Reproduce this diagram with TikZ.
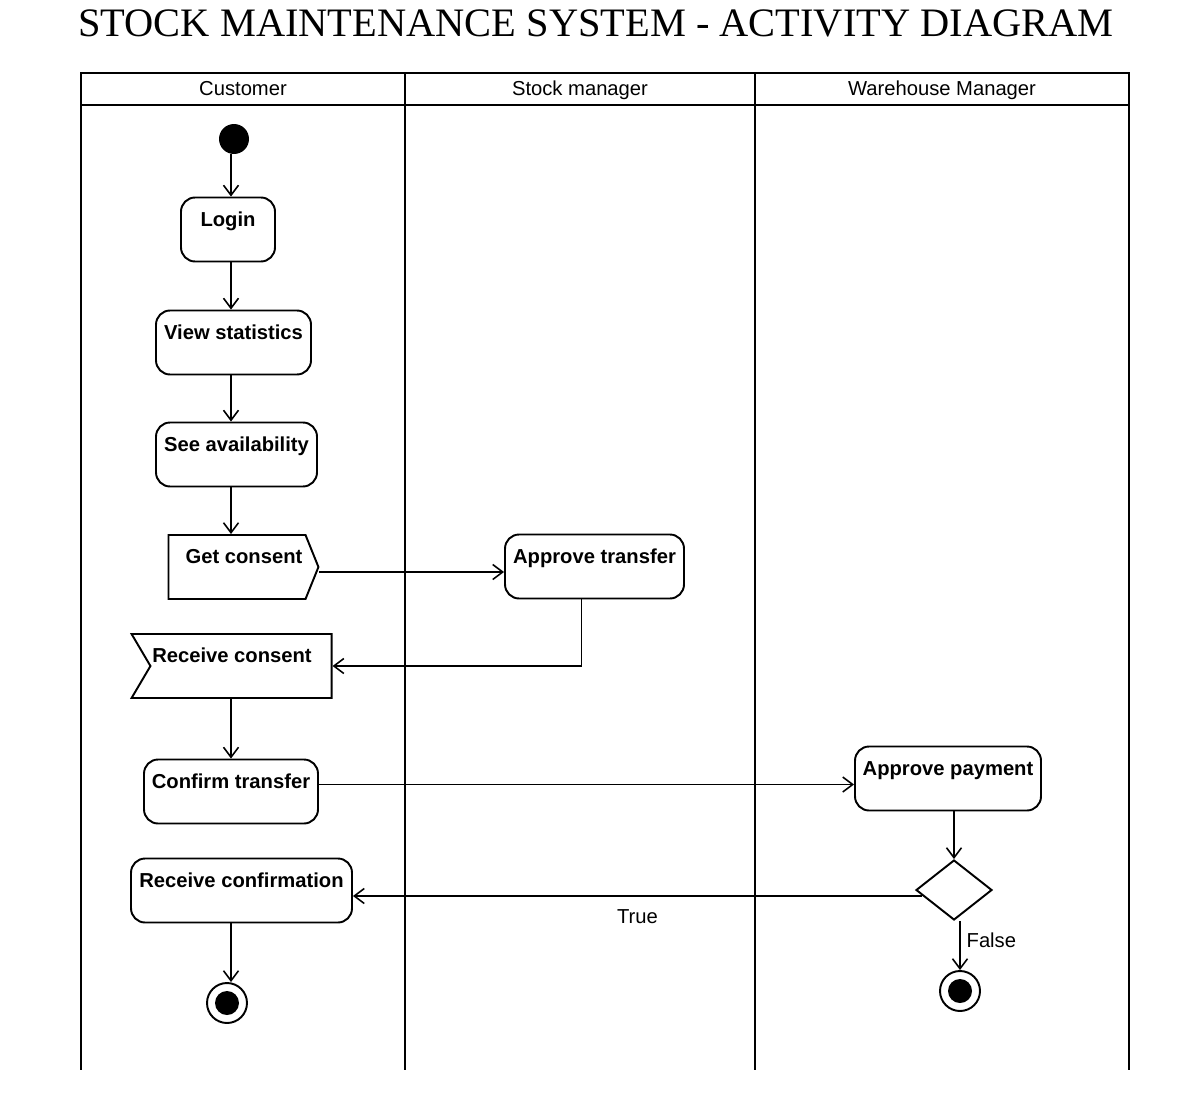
\documentclass[tikz,border=0pt]{standalone}
\usepackage{fontspec}
\setmainfont{Liberation Sans}
\newfontfamily\titlefont{Liberation Serif}
\usetikzlibrary{shapes.geometric,shapes.symbols,arrows.meta,calc}

\begin{document}
\begin{tikzpicture}
	[x=0.02cm,y=-0.02cm,
	every node/.style={font=\fontsize{11.5}{13}\selectfont},
	act/.style={draw,line width=1.1pt,rounded corners=8pt,font=\fontsize{11.5}{13}\selectfont\bfseries,
		text height=0.42cm,text depth=0.56cm,inner ysep=0.15cm,inner xsep=0pt,minimum height=1.28cm},
	sig/.style={act,signal,sharp corners},
	lanehead/.style={anchor=base},
	flow/.style={-{Straight Barb[length=0.2cm,width=0.3cm]},line width=0.9pt},
	lane/.style={line width=1.6pt}]
	\useasboundingbox (0,0) rectangle (1203,1092);

	% title and swimlanes
	\node[font=\titlefont\fontsize{23}{26}\selectfont] (title) at (596,23)
		{STOCK MAINTENANCE SYSTEM - ACTIVITY DIAGRAM};
	\draw[lane] (81,73) rectangle (1129,105);
	\foreach \x in {81,405,755,1129}
		\draw[lane] (\x,73) -- (\x,1070);
	\node[lanehead] (cust) at (243,95) {Customer};
	\node[lanehead] (stock) at (580,95) {Stock manager};
	\node[lanehead] (ware) at (942,95) {Warehouse Manager};
	\coordinate (custaxis) at (231,0);

	% activities
	\node[circle,fill=black,minimum size=0.6cm,inner sep=0pt] (start) at (234,139) {};
	\node[act,minimum width=1.88cm] (login) at (228,229.5) {Login};
	\node[act,minimum width=3.1cm] (stats) at (233.5,342.5) {View statistics};
	\node[act,minimum width=3.22cm] (avail) at (236.5,454.5) {See availability};
	\node[sig,signal to=east,signal pointer angle=136,minimum width=3cm] (getcons) at (237,567)
		{Get consent\hspace*{-0.28cm}};
	\node[act,minimum width=3.58cm] (approvet) at (594.5,566.5) {Approve transfer};
	\node[sig,signal from=west,signal to=nowhere,signal pointer angle=119,minimum width=4cm] (recvcons) at (241,666)
		{\hspace*{-0.36cm}Receive consent};
	\node[act,minimum width=3.48cm] (confirm) at (231,791.5) {Confirm transfer};
	\node[act,minimum width=3.72cm] (approvep) at (948,778.5) {Approve payment};
	\node[draw,line width=1.1pt,diamond,minimum width=1.52cm,minimum height=1.2cm,inner sep=0pt] (decide) at (954,890) {};
	\node[act,minimum width=4.42cm] (recvconf) at (241.5,890.5) {Receive confirmation};
	\node[circle,draw,line width=1.1pt,minimum size=0.8cm,inner sep=0pt] (end1) at (227,1003) {};
	\node[circle,draw,line width=1.1pt,minimum size=0.8cm,inner sep=0pt] (end2) at (960,991) {};
	\fill (end1.center) circle (0.24cm);
	\fill (end2.center) circle (0.24cm);

	% flows
	\foreach \startNode/\endNode in {start/login,login/stats,stats/avail,avail/getcons,
		recvcons/confirm,recvconf/end1}
		\draw[flow] (\startNode.south -| custaxis) -- (\endNode.north -| custaxis);
	\draw[flow] (approvep.south -| decide) -- (decide);
	\draw[flow] ([yshift=-0.1cm]getcons.east) -- ([yshift=-0.1cm]getcons.east -| approvet.west);
	\draw[flow] ([xshift=-0.26cm]approvet.south) |- (recvcons.east);
	\draw[flow] ([yshift=0.14cm]confirm.east) -- ([yshift=0.14cm]confirm.east -| approvep.west);
	\draw[flow] ([xshift=0.14cm,yshift=-0.12cm]decide.west) -- node[below=4pt] (truelbl) {True}
		([yshift=-0.12cm]decide.west -| recvconf.east);
	\draw[flow] (decide.south -| end2) -- node[right,pos=0.4] (falselbl) {False} (end2);
\end{tikzpicture}
\end{document}
